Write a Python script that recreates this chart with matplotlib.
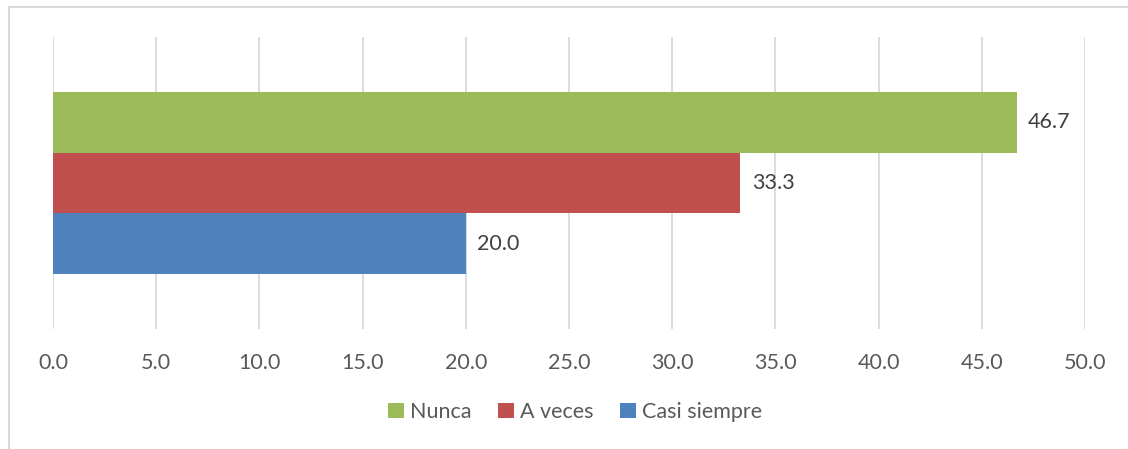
import matplotlib.pyplot as plt
import matplotlib.patches as mpatches

plt.rcParams.update({
    'font.family': ['Lato', 'DejaVu Sans'],
    'font.size': 15.5,
})

series = ["Nunca", "A veces", "Casi siempre"]
values = [46.7, 33.3, 20.0]
colors = ["#9BBB59", "#C0504D", "#4F81BD"]
ticks = [0, 5, 10, 15, 20, 25, 30, 35, 40, 45, 50]

W, H = 1128, 449
fig = plt.figure(figsize=(W / 100, H / 100), dpi=100)
# plot area: x 53..1085, y 37..329 (pixels from top)
ax = fig.add_axes([53 / W, 1 - 329 / H, (1085 - 53) / W, (329 - 37) / H])

# chart frame (left/top visible only)
fig.patches.append(mpatches.Rectangle((8.5 / W, -0.1), 1.2, 1.1 - 7.5 / H,
                                      transform=fig.transFigure, fill=False,
                                      edgecolor='#d9d9d9', linewidth=1.5))

bh = 60.5 / 292
offsets = [bh, 0, -bh]
for name, v, c, off in zip(series, values, colors, offsets):
    ax.barh(0.5 + off, v, height=bh, color=c, label=name, zorder=3)
    ax.text(v + 0.55, 0.5 + off, f"{v:.1f}", va='center', ha='left',
            color='#404040')

ax.set_xlim(0, 50)
ax.set_ylim(0, 1)
ax.set_xticks(ticks)
ax.set_xticklabels([f"{t:.1f}" for t in ticks], color='#595959')
ax.tick_params(axis='x', length=0, pad=17)
ax.set_yticks([])
for s in ax.spines.values():
    s.set_visible(False)
ax.grid(axis='x', color='#d9d9d9', linewidth=1.3, zorder=0)

fig.legend(loc='center', bbox_to_anchor=(575 / W, 1 - 412 / H), ncol=3,
           frameon=False, handlelength=0.75, handleheight=0.75,
           handletextpad=0.3, columnspacing=1.2,
           labelcolor='#595959')

fig.savefig("out.png", dpi=100)
